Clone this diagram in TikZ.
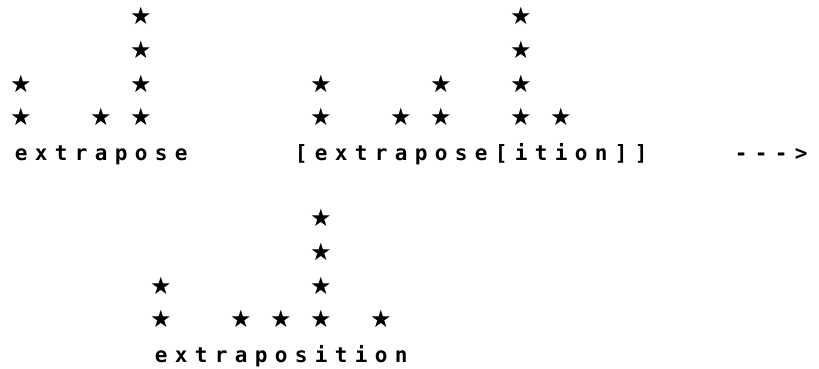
\documentclass[tikz,border=0pt]{standalone}
\usepackage{fontspec}
\setmonofont{DejaVu Sans Mono}
\newfontfamily\starfont{DejaVu Sans}
\usepackage{tikz}
\usetikzlibrary{positioning}
\newlength\cellw
\setlength\cellw{20pt}
% one fixed cell per character, like the printout
\def\spaced#1{\spacedloop#1\relax}
\def\spacedloop#1{\ifx#1\relax\else\makebox[\cellw]{#1}\expandafter\spacedloop\fi}
\tikzset{
  word/.style={anchor=base west, inner sep=0pt,
               font=\fontsize{21}{21}\selectfont\ttfamily\bfseries},
  beat/.style={inner sep=0pt, font=\fontsize{24}{24}\selectfont\starfont},
}

\begin{document}
\begin{tikzpicture}[x=1pt,y=-1pt]
  \useasboundingbox (0,0) rectangle (819,368);
  \node[word] (base)     at (11,160)  {\spaced{extrapose}};
  \node[word] (compound) at (291,160) {\spaced{[extrapose[ition]]}};
  \node[word] (arrow)    at (731,160) {\spaced{--->}};
  \node[word] (result)   at (151,362) {\spaced{extraposition}};
  % metrical grids
  \foreach \c/\h in {0/2,4/1,6/4,15/2,19/1,21/2,25/4,27/1}
    \foreach \k in {1,...,\h}
      \node[beat] (top-\c-\k) at ({21+20*\c},{117-33.6*(\k-1)}) {★};
  \foreach \c/\h in {7/2,11/1,13/1,15/4,18/1}
    \foreach \k in {1,...,\h}
      \node[beat] (bot-\c-\k) at ({21+20*\c},{319-33.6*(\k-1)}) {★};
\end{tikzpicture}
\end{document}
